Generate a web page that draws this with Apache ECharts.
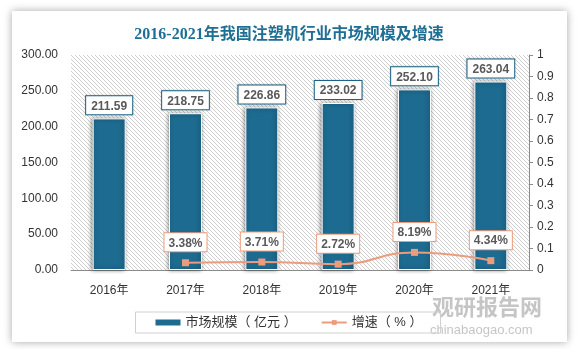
<!DOCTYPE html>
<html><head><meta charset="utf-8">
<script src="https://cdn.jsdelivr.net/npm/echarts@6/dist/echarts.min.js"></script>
<style>
html,body{margin:0;padding:0;background:#fff;}
#card{position:absolute;left:12px;top:11px;width:555px;height:331px;background:#fff;box-shadow:0 0 8px rgba(0,0,0,0.35);}
#chart{position:absolute;left:0;top:0;width:578px;height:349px;}
</style></head>
<body>
<div id="card"></div>
<div id="chart"></div>
<script>
const titleText = '2016-2021年我国注塑机行业市场规模及增速';
const categories = ['2016年','2017年','2018年','2019年','2020年','2021年'];
const marketSize = [211.59, 218.75, 226.86, 233.02, 252.10, 263.04];
const growthPct = [null, 3.38, 3.71, 2.72, 8.19, 4.34];
const leftTicks = {min:0, max:300, interval:50};
const rightTicks = {min:0, max:1, interval:0.1};

const pc = document.createElement('canvas');
pc.width = 4; pc.height = 4;
const g = pc.getContext('2d');
g.fillStyle = '#ffffff'; g.fillRect(0,0,4,4);
g.strokeStyle = '#cfcfcf'; g.lineWidth = 1;
g.beginPath(); g.moveTo(0,0); g.lineTo(4,4); g.moveTo(-1,3); g.lineTo(1,5); g.moveTo(3,-1); g.lineTo(5,1); g.stroke();

const BLUE = '#1d6b90';
const ORANGE = '#ec9c7c';
const cjk = '"Liberation Sans","Noto Sans CJK SC",sans-serif';

const chart = echarts.init(document.getElementById('chart'), null, {renderer:'canvas'});
chart.setOption({
  backgroundColor: 'transparent',
  animation: false,
  title: {
    text: titleText, left: 'center', top: 22,
    textStyle: {fontFamily: '"Liberation Serif","Noto Sans CJK SC",serif', fontWeight: 'bold', fontSize: 16, color: '#1f6e93'}
  },
  grid: {left: 71, right: 49, top: 55, bottom: 79, show: true, borderWidth: 0,
    backgroundColor: {image: pc, repeat: 'repeat'}},
  legend: {
    bottom: 16, left: 'center', itemGap: 24,
    borderColor: '#d0d0d0', borderWidth: 1, padding: [4, 18, 4, 20],
    textStyle: {fontFamily: cjk, fontSize: 13, color: '#333'},
    data: [
      {name: '市场规模（ 亿元 ）', icon: 'rect', itemStyle:{borderWidth:0}},
      {name: '增速（ % ）'}
    ],
    itemWidth: 25, itemHeight: 6
  },
  xAxis: {
    type: 'category', data: categories,
    axisLine: {show: true, lineStyle: {color: '#8c8c8c'}},
    axisTick: {show: false},
    axisLabel: {color: '#333', fontSize: 12, margin: 15, fontFamily: cjk}
  },
  yAxis: [
    {type: 'value', min: leftTicks.min, max: leftTicks.max, interval: leftTicks.interval,
     axisLine: {show: false}, axisTick: {show: false}, splitLine: {show: false},
     axisLabel: {color: '#333', fontSize: 12, margin: 13, fontFamily: cjk, formatter: v => v.toFixed(2)}},
    {type: 'value', min: rightTicks.min, max: rightTicks.max, interval: rightTicks.interval, position: 'right',
     axisLine: {show: true, lineStyle: {color: '#8c8c8c'}},
     axisTick: {show: true, length: 4, lineStyle: {color: '#8c8c8c'}}, splitLine: {show: false},
     axisLabel: {color: '#333', fontSize: 12, margin: 8, fontFamily: cjk,
       formatter: v => String(Math.round(v*10)/10)}}
  ],
  series: [
    {
      name: '市场规模（ 亿元 ）', type: 'bar', data: marketSize, barWidth: 33, yAxisIndex: 0,
      itemStyle: {color: BLUE, borderColor: '#fff', borderWidth: 1,
        shadowBlur: 4, shadowColor: 'rgba(0,0,0,0.45)', shadowOffsetX: -1, shadowOffsetY: 0},
      label: {show: true, position: 'top', distance: 4, formatter: p => p.value.toFixed(2),
        backgroundColor: '#fff', borderColor: BLUE, borderWidth: 1, padding: [4, 5, 2, 5],
        color: '#595959', fontWeight: 'bold', fontSize: 12, fontFamily: cjk,
        shadowBlur: 2, shadowColor: 'rgba(0,0,0,0.2)'}
    },
    {
      name: '增速（ % ）', type: 'line', yAxisIndex: 1,
      data: growthPct.map(v => v == null ? null : v / 100),
      smooth: true, symbol: 'rect', symbolSize: 7,
      lineStyle: {color: ORANGE, width: 2}, itemStyle: {color: ORANGE},
      label: {show: true, position: 'top', distance: 8,
        formatter: p => (p.value*100).toFixed(2) + '%',
        backgroundColor: '#fff', borderColor: ORANGE, borderWidth: 1, padding: [4, 4, 2, 4],
        color: '#595959', fontWeight: 'bold', fontSize: 12, fontFamily: cjk}
    }
  ],
  graphic: [
    {type: 'text', left: 432, top: 296, style: {text: '观研报告网', fill: 'rgba(140,140,140,0.5)', font: 'bold 22px "Noto Sans CJK SC"'}},
    {type: 'text', left: 430, top: 324, style: {text: 'chinabaogao.com', fill: 'rgba(140,140,140,0.5)', font: '13px "Liberation Sans"'}}
  ]
});
</script>
</body></html>
